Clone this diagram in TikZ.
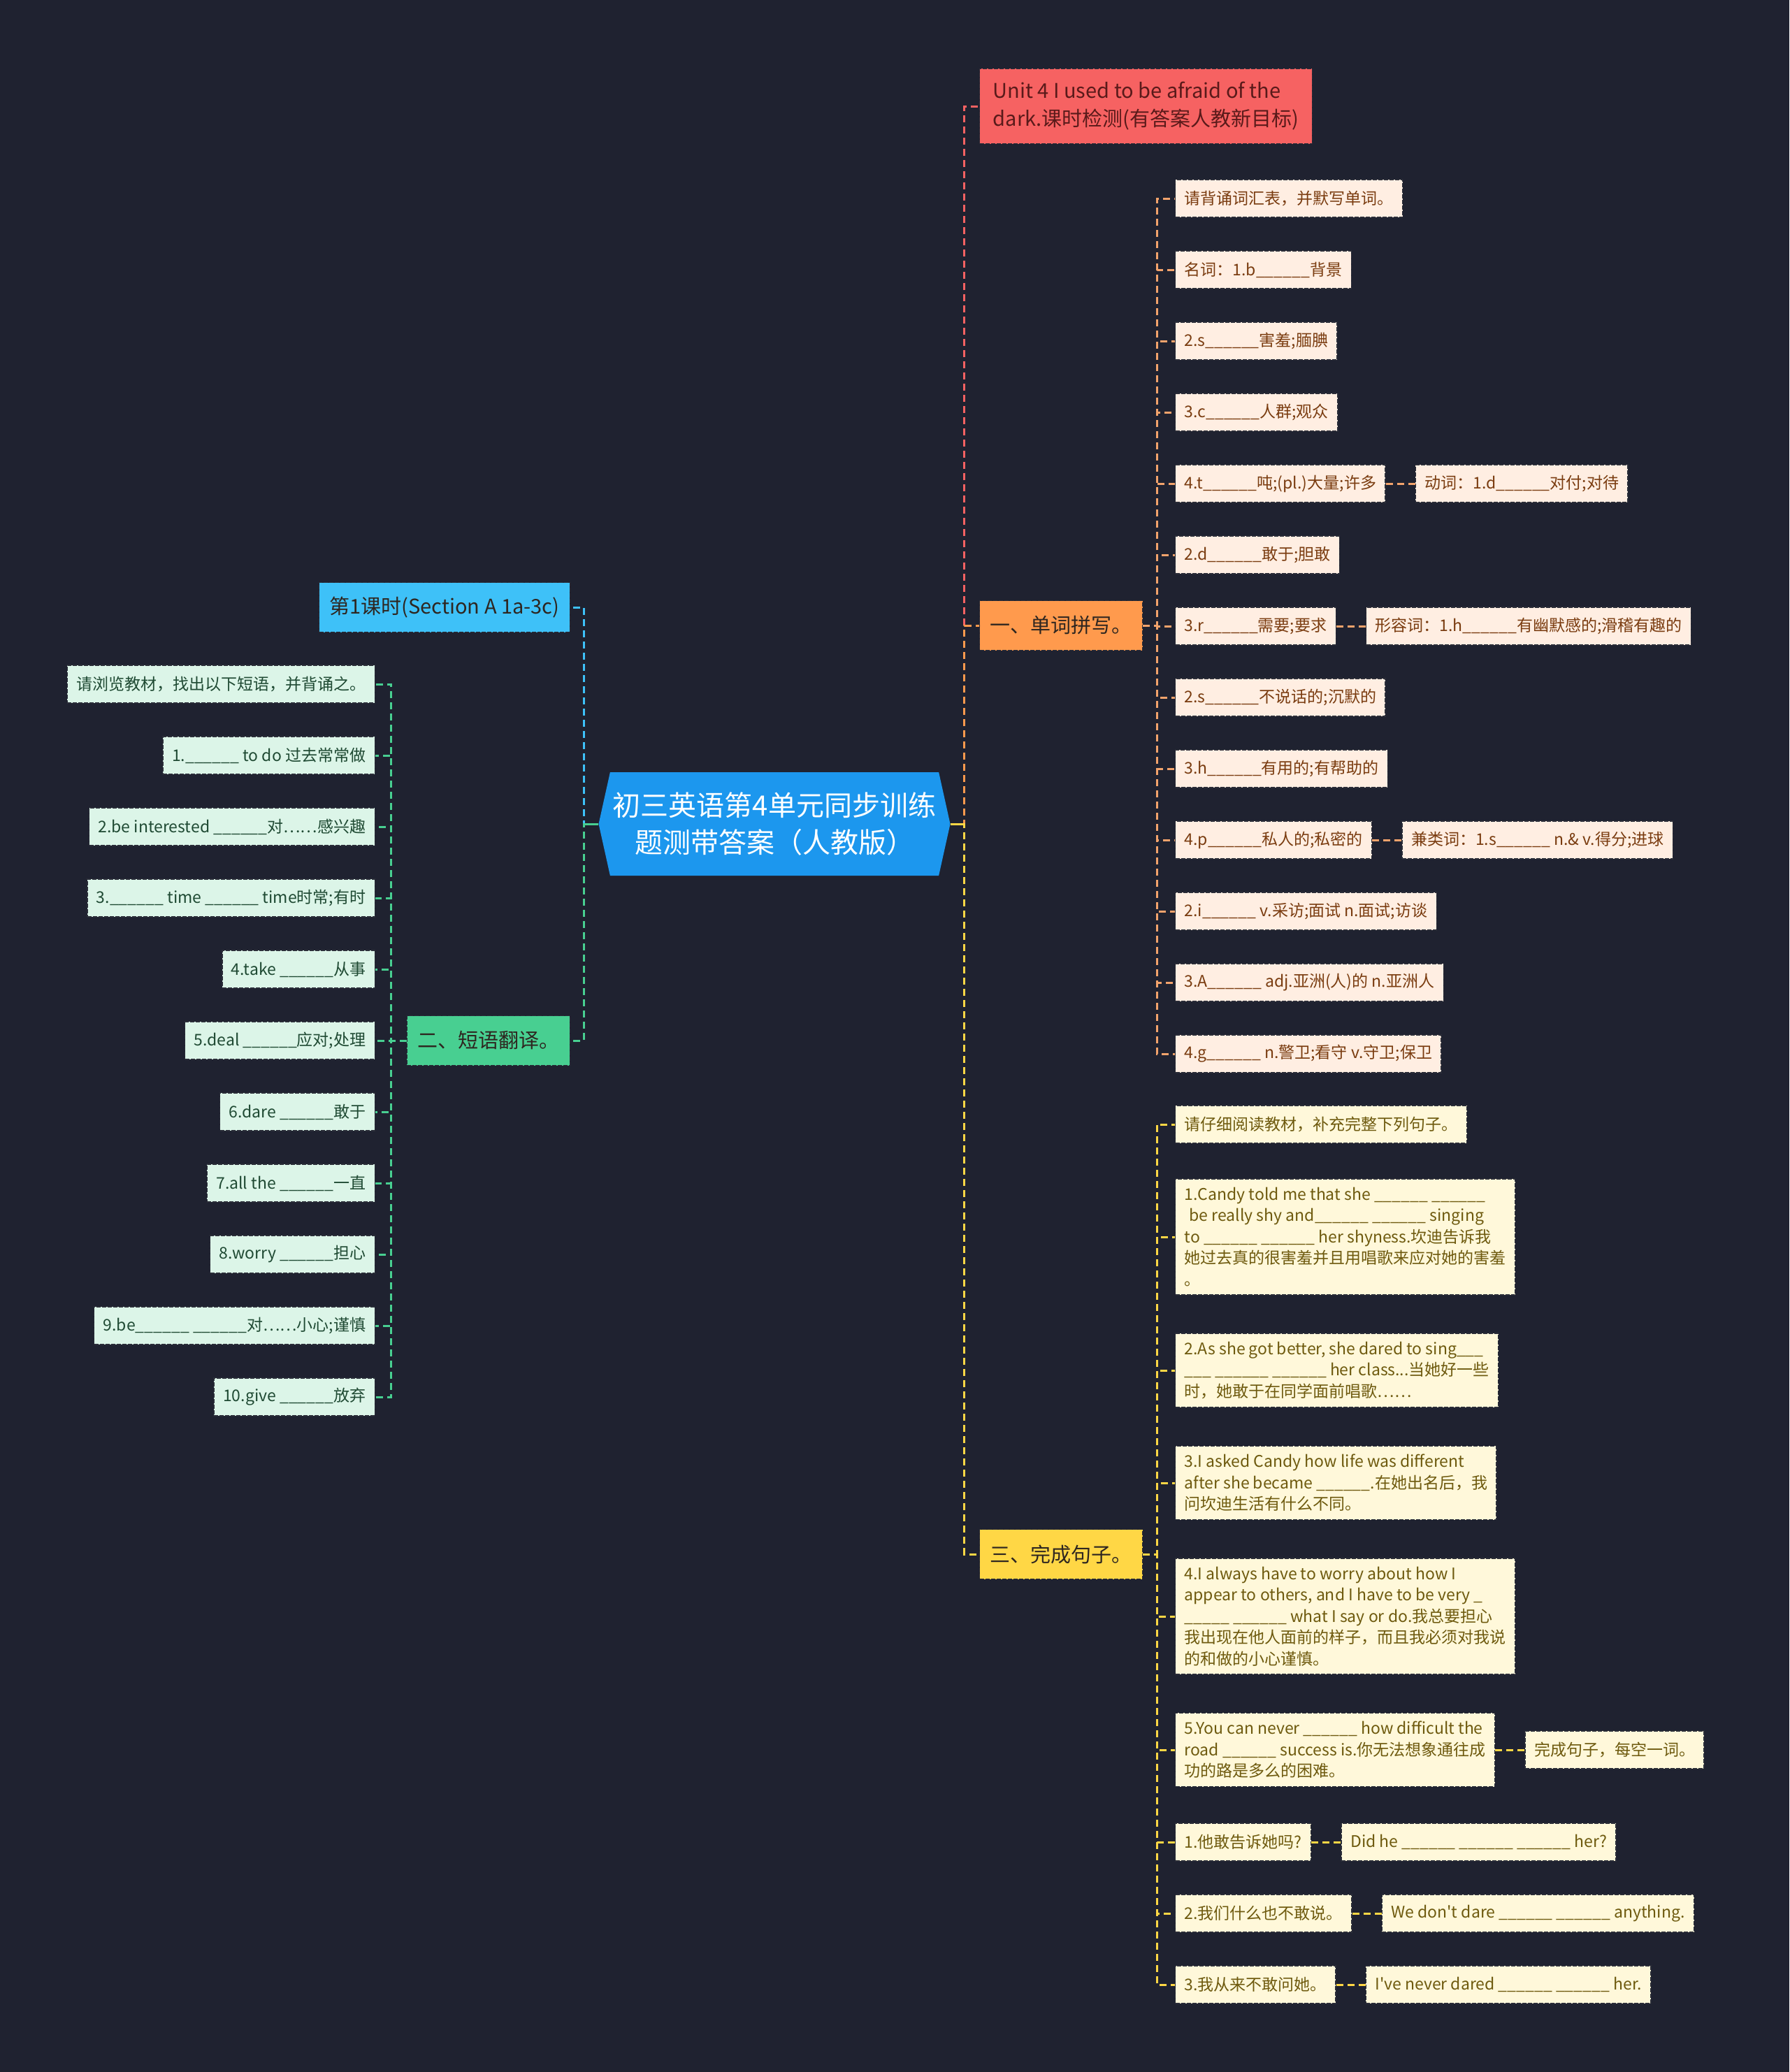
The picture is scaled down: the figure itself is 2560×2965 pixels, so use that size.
\documentclass[tikz,border=0pt]{standalone}
\usepackage{fontspec}
\newfontfamily\cjk{Noto Sans CJK SC}
\usetikzlibrary{positioning,shapes.symbols}
\definecolor{bgc}{HTML}{1F2230}
\definecolor{edgec}{HTML}{2A2D38}
\definecolor{rootc}{HTML}{1C97EE}
\definecolor{redc}{HTML}{F66262}
\definecolor{titletext}{HTML}{5A1A1A}
\definecolor{orgc}{HTML}{FF9A4D}
\definecolor{orgl}{HTML}{F2A36C}
\definecolor{bluec}{HTML}{3EC1F8}
\definecolor{greenc}{HTML}{48CF91}
\definecolor{yelc}{HTML}{FFD745}
\definecolor{cattext}{HTML}{2E2620}
\definecolor{ofill}{HTML}{FFEEE2}
\definecolor{otext}{HTML}{7A3C10}
\definecolor{gfill}{HTML}{DCF5E8}
\definecolor{gtext}{HTML}{1F4A33}
\definecolor{yfill}{HTML}{FFF8DA}
\definecolor{ytext}{HTML}{6E5A0E}
\newcommand{\blk}{\_\_\_\_\_\_}

\begin{document}
\begin{tikzpicture}[x=0.5pt, y=-0.5pt,
    every node/.style={font=\cjk},
    box/.style={rectangle, draw=edgec, dash pattern=on 3pt off 1pt, line width=0.7pt,
      inner xsep=6.5pt, inner ysep=6pt, minimum height=27pt, align=left,
      font=\cjk\fontsize{11.5}{15.25}\selectfont},
    obox/.style={box, fill=ofill, text=otext},
    gbox/.style={box, fill=gfill, text=gtext},
    ybox/.style={box, fill=yfill, text=ytext},
    cat/.style={rectangle, draw=edgec, dash pattern=on 3pt off 1pt, line width=0.7pt,
      minimum height=35.5pt, inner xsep=7.5pt, text=cattext,
      font=\cjk\fontsize{14.5}{20}\selectfont},
    link/.style={line width=1.5pt, dash pattern=on 5pt off 3pt},
    stub/.style={line width=1.5pt},
    node distance=21pt]
  \useasboundingbox (0,0) rectangle (2560,2965);
  \fill[bgc] (0,0) rectangle (2560,2965);

  % Centre and branches
  \node[signal, signal to=east and west, signal pointer angle=155, fill=rootc, text=white,
    minimum width=251pt, minimum height=74pt, inner sep=2pt, align=center,
    font=\cjk\fontsize{20}{26.5}\selectfont] (root) at (1108,1179)
    {初三英语第4单元同步训练\\题测带答案（人教版）};
  \node[cat, fill=redc, text=titletext, align=left, inner xsep=9.5pt, inner ysep=9.5pt, anchor=west] (title) at (1401,152)
    {Unit 4 I used to be afraid of the\\dark.课时检测(有答案人教新目标)};
  \node[cat, fill=orgc, anchor=west] (c1) at (1401,895) {一、单词拼写。};
  \node[cat, fill=yelc, anchor=west] (c3) at (1401,2224) {三、完成句子。};
  \node[cat, fill=bluec, anchor=east] (c0) at (816,869) {第1课时(Section A 1a-3c)};
  \node[cat, fill=greenc, anchor=east] (c2) at (816,1489) {二、短语翻译。};

  % Word spelling
  \node[obox, anchor=west] (o1) at (1681,284) {请背诵词汇表，并默写单词。};
  \node[obox, anchor=west] (o2) at (1681,386) {名词：1.b\blk{}背景};
  \node[obox, anchor=west] (o3) at (1681,488) {2.s\blk{}害羞;腼腆};
  \node[obox, anchor=west] (o4) at (1681,590) {3.c\blk{}人群;观众};
  \node[obox, anchor=west] (o5) at (1681,692) {4.t\blk{}吨;(pl.)大量;许多};
  \node[obox, anchor=west] (o6) at (1681,794) {2.d\blk{}敢于;胆敢};
  \node[obox, anchor=west] (o7) at (1681,896) {3.r\blk{}需要;要求};
  \node[obox, anchor=west] (o8) at (1681,998) {2.s\blk{}不说话的;沉默的};
  \node[obox, anchor=west] (o9) at (1681,1100) {3.h\blk{}有用的;有帮助的};
  \node[obox, anchor=west] (o10) at (1681,1202) {4.p\blk{}私人的;私密的};
  \node[obox, anchor=west] (o11) at (1681,1304) {2.i\blk{} v.采访;面试 n.面试;访谈};
  \node[obox, anchor=west] (o12) at (1681,1406) {3.A\blk{} adj.亚洲(人)的 n.亚洲人};
  \node[obox, anchor=west] (o13) at (1681,1508) {4.g\blk{} n.警卫;看守 v.守卫;保卫};
  \node[obox, right=of o5] (o5b) {动词：1.d\blk{}对付;对待};
  \node[obox, right=of o7] (o7b) {形容词：1.h\blk{}有幽默感的;滑稽有趣的};
  \node[obox, right=of o10] (o10b) {兼类词：1.s\blk{} n.\& v.得分;进球};

  % Phrases
  \node[gbox, anchor=east] (g0) at (537,979) {请浏览教材，找出以下短语，并背诵之。};
  \node[gbox, anchor=east] (g1) at (537,1081) {1.\blk{} to do 过去常常做};
  \node[gbox, anchor=east] (g2) at (537,1183) {2.be interested \blk{}对……感兴趣};
  \node[gbox, anchor=east] (g3) at (537,1285) {3.\blk{} time \blk{} time时常;有时};
  \node[gbox, anchor=east] (g4) at (537,1387) {4.take \blk{}从事};
  \node[gbox, anchor=east] (g5) at (537,1489) {5.deal \blk{}应对;处理};
  \node[gbox, anchor=east] (g6) at (537,1591) {6.dare \blk{}敢于};
  \node[gbox, anchor=east] (g7) at (537,1693) {7.all the \blk{}一直};
  \node[gbox, anchor=east] (g8) at (537,1795) {8.worry \blk{}担心};
  \node[gbox, anchor=east] (g9) at (537,1897) {9.be\blk{} \blk{}对……小心;谨慎};
  \node[gbox, anchor=east] (g10) at (537,1999) {10.give \blk{}放弃};

  % Sentences
  \node[ybox, anchor=west] (y0) at (1681,1609) {请仔细阅读教材，补充完整下列句子。};
  \node[ybox, anchor=west] (y1) at (1681,1770)
    {1.Candy told me that she \blk{} \blk{}\\
     \hspace*{0.3em}be really shy and\blk{} \blk{} singing\\
     to \blk{} \blk{} her shyness.坎迪告诉我\\
     她过去真的很害羞并且用唱歌来应对她的害羞\\
     。};
  \node[ybox, anchor=west] (y2) at (1681,1961)
    {2.As she got better, she dared to sing\_\_\_\\
     \_\_\_ \blk{} \blk{} her class...当她好一些\\
     时，她敢于在同学面前唱歌……};
  \node[ybox, anchor=west] (y3) at (1681,2122)
    {3.I asked Candy how life was different\\
     after she became \blk{}.在她出名后，我\\
     问坎迪生活有什么不同。};
  \node[ybox, anchor=west] (y4) at (1681,2313)
    {4.I always have to worry about how I\\
     appear to others, and I have to be very \_\\
     \_\_\_\_\_ \blk{} what I say or do.我总要担心\\
     我出现在他人面前的样子，而且我必须对我说\\
     的和做的小心谨慎。};
  \node[ybox, anchor=west] (y5) at (1681,2504)
    {5.You can never \blk{} how difficult the\\
     road \blk{} success is.你无法想象通往成\\
     功的路是多么的困难。};
  \node[ybox, anchor=west] (y6) at (1681,2636) {1.他敢告诉她吗?};
  \node[ybox, anchor=west] (y7) at (1681,2738) {2.我们什么也不敢说。};
  \node[ybox, anchor=west] (y8) at (1681,2840) {3.我从来不敢问她。};
  \node[ybox, right=of y5] (y5b) {完成句子，每空一词。};
  \node[ybox, right=of y6] (y6b) {Did he \blk{} \blk{} \blk{} her?};
  \node[ybox, right=of y7] (y7b) {We don't dare \blk{} \blk{} anything.};
  \node[ybox, right=of y8] (y8b) {I've never dared \blk{} \blk{} her.};

  % Branch edges
  \draw[link, redc] (root.east) -- ++(20,0) |- (title.west);
  \draw[link, orgc] (root.east) -- ++(20,0) |- (c1.west);
  \draw[link, yelc] (root.east) -- ++(20,0) |- (c3.west);
  \draw[link, bluec] (root.west) -- ++(-21,0) |- (c0.east);
  \draw[link, greenc] (root.west) -- ++(-21,0) |- (c2.east);
  \draw[stub, yelc] (root.east) -- ++(20,0);
  \draw[stub, greenc] (root.west) -- ++(-21,0);

  % Word edges
  \draw[link, orgl] (c1.east) -- ++(20,0) |- (o1.west);
  \draw[link, orgl] (c1.east) -- ++(20,0) |- (o2.west);
  \draw[link, orgl] (c1.east) -- ++(20,0) |- (o3.west);
  \draw[link, orgl] (c1.east) -- ++(20,0) |- (o4.west);
  \draw[link, orgl] (c1.east) -- ++(20,0) |- (o5.west);
  \draw[link, orgl] (c1.east) -- ++(20,0) |- (o6.west);
  \draw[link, orgl] (c1.east) -- ++(20,0) |- (o7.west);
  \draw[link, orgl] (c1.east) -- ++(20,0) |- (o8.west);
  \draw[link, orgl] (c1.east) -- ++(20,0) |- (o9.west);
  \draw[link, orgl] (c1.east) -- ++(20,0) |- (o10.west);
  \draw[link, orgl] (c1.east) -- ++(20,0) |- (o11.west);
  \draw[link, orgl] (c1.east) -- ++(20,0) |- (o12.west);
  \draw[link, orgl] (c1.east) -- ++(20,0) |- (o13.west);
  \draw[link, orgl] (o5) -- (o5b);
  \draw[link, orgl] (o7) -- (o7b);
  \draw[link, orgl] (o10) -- (o10b);

  % Phrase edges
  \draw[link, greenc] (c2.west) -- ++(-22,0) |- (g0.east);
  \draw[link, greenc] (c2.west) -- ++(-22,0) |- (g1.east);
  \draw[link, greenc] (c2.west) -- ++(-22,0) |- (g2.east);
  \draw[link, greenc] (c2.west) -- ++(-22,0) |- (g3.east);
  \draw[link, greenc] (c2.west) -- ++(-22,0) |- (g4.east);
  \draw[link, greenc] (c2.west) -- ++(-22,0) |- (g5.east);
  \draw[link, greenc] (c2.west) -- ++(-22,0) |- (g6.east);
  \draw[link, greenc] (c2.west) -- ++(-22,0) |- (g7.east);
  \draw[link, greenc] (c2.west) -- ++(-22,0) |- (g8.east);
  \draw[link, greenc] (c2.west) -- ++(-22,0) |- (g9.east);
  \draw[link, greenc] (c2.west) -- ++(-22,0) |- (g10.east);

  % Sentence edges
  \draw[link, yelc] (c3.east) -- ++(20,0) |- (y0.west);
  \draw[link, yelc] (c3.east) -- ++(20,0) |- (y1.west);
  \draw[link, yelc] (c3.east) -- ++(20,0) |- (y2.west);
  \draw[link, yelc] (c3.east) -- ++(20,0) |- (y3.west);
  \draw[link, yelc] (c3.east) -- ++(20,0) |- (y4.west);
  \draw[link, yelc] (c3.east) -- ++(20,0) |- (y5.west);
  \draw[link, yelc] (c3.east) -- ++(20,0) |- (y6.west);
  \draw[link, yelc] (c3.east) -- ++(20,0) |- (y7.west);
  \draw[link, yelc] (c3.east) -- ++(20,0) |- (y8.west);
  \draw[link, yelc] (y5) -- (y5b);
  \draw[link, yelc] (y6) -- (y6b);
  \draw[link, yelc] (y7) -- (y7b);
  \draw[link, yelc] (y8) -- (y8b);
\end{tikzpicture}
\end{document}
